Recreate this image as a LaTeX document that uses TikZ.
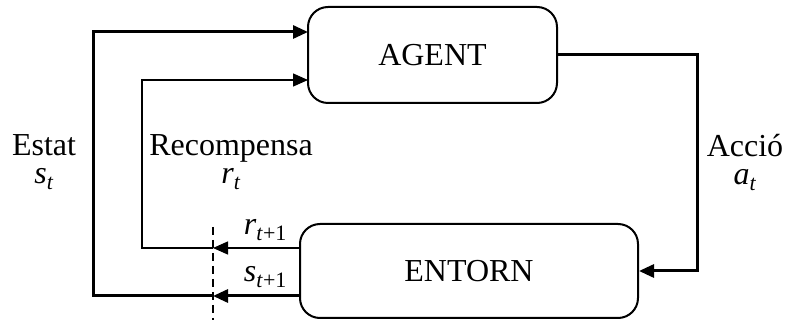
\documentclass[tikz,border=0pt]{standalone}
\usepackage{fontspec}
\setmainfont{Liberation Serif}
\usetikzlibrary{positioning,arrows.meta}
\newcommand{\sbx}[2]{\textit{#1}\raisebox{-3pt}{\fontsize{11}{11}\selectfont #2}}

\begin{document}
\begin{tikzpicture}[x=0.5pt,y=-0.5pt,
    font=\fontsize{16}{14}\selectfont,
    box/.style={draw,line width=1pt,rounded corners=10pt,inner sep=0pt},
    tip/.style={-{Triangle[length=7.5pt,width=6.5pt]}},
    fat/.style={line width=1.5pt},
    slim/.style={line width=0.7pt}]
  \useasboundingbox (0,0) rectangle (788,320);
  \node[box,minimum width=124.5pt,minimum height=48pt] (agent) at (432.5,55) {AGENT};
  \node[box,minimum width=169pt,minimum height=47pt] (entorn) at (469,271) {ENTORN};
  % points where the loops turn and meet
  \coordinate (sin) at (308,32);
  \coordinate (rin) at (308,80);
  \coordinate (sout) at (300,296);
  \coordinate (rout) at (300,248);
  \coordinate (s1) at (213,296);
  \coordinate (r1) at (213,248);
  \coordinate (sbend) at (93,296);
  \coordinate (rbend) at (142,248);
  \coordinate (abend) at (697,271);
  \coordinate (cuttop) at (213,227);
  \coordinate (cutbot) at (213,320);
  % time step cut
  \draw[line width=1pt,dash pattern=on 4pt off 2.5pt] (cuttop) -- (cutbot);
  % action
  \draw[fat,tip] (agent.east) -| (abend) -- (entorn.east);
  % next state and reward
  \draw[fat,tip] (sout) -- node[above,pos=0.4] {\sbx{s}{\textit{t}+1}} (s1);
  \draw[slim,tip] (rout) -- node[above,pos=0.4] {\sbx{r}{\textit{t}+1}} (r1);
  \draw[fat,tip] (s1) -- (sbend) |- (sin);
  \draw[slim,tip] (r1) -- (rbend) |- (rin);
  % labels
  \node[align=center] (estat) at (44,162) {Estat\\\sbx{s}{\textit{t}}};
  \node[align=center] (recomp) at (231,162) {Recompensa\\\sbx{r}{\textit{t}}};
  \node[align=center] (accio) at (745,162) {Acció\\\sbx{a}{\textit{t}}};
\end{tikzpicture}
\end{document}
